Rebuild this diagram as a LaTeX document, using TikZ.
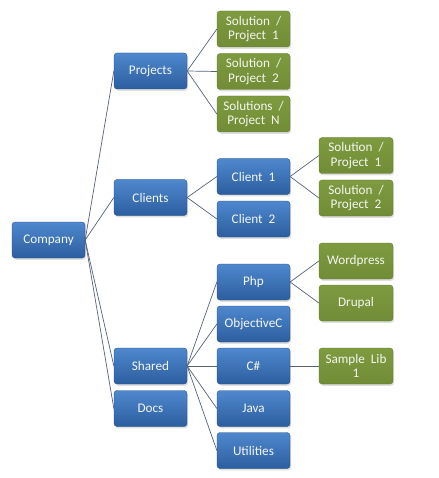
\documentclass[tikz,border=0pt]{standalone}
\usepackage{fontspec}
\setmainfont{Carlito}
\usetikzlibrary{shadows}
\definecolor{bluetop}{HTML}{4F88CE}
\definecolor{bluebot}{HTML}{2C5E9F}
\definecolor{greentop}{HTML}{7E9B40}
\definecolor{greenbot}{HTML}{718C36}
\definecolor{linecol}{HTML}{56627A}
\definecolor{txt}{HTML}{F4F6F0}
\tikzset{
  box/.style={rounded corners=3pt, minimum height=36pt, align=center,
    text=txt, font=\fontsize{13.2}{14.5}\selectfont, inner sep=1pt,
    drop shadow={shadow xshift=1.2pt, shadow yshift=-1.8pt, opacity=0.25}},
  bluebox/.style={box, top color=bluetop, bottom color=bluebot, draw=bluebot!80!black, line width=0.3pt},
  greenbox/.style={box, top color=greentop, bottom color=greenbot, draw=greenbot!85!black, line width=0.3pt},
  link/.style={draw=linecol, line width=0.7pt},
}
\begin{document}
\begin{tikzpicture}[x=1pt,y=-1pt]
\useasboundingbox (0,0) rectangle (438,478);
% level 0
\node[bluebox, minimum width=73pt] (company) at (48.5,240) {Company};
% level 1
\node[bluebox, minimum width=73pt] (projects) at (150.5,71) {Projects};
\node[bluebox, minimum width=73pt] (clients) at (150.5,197.5) {Clients};
\node[bluebox, minimum width=73pt] (shared) at (150.5,366) {Shared};
\node[bluebox, minimum width=73pt] (docs) at (150.5,408.5) {Docs};
% level 2
\node[greenbox, minimum width=73pt] (ps1) at (253.5,29) {Solution~~/\\Project~~1};
\node[greenbox, minimum width=73pt] (ps2) at (253.5,71.5) {Solution~~/\\Project~~2};
\node[greenbox, minimum width=73pt] (psn) at (253.5,114) {Solutions~~/\\Project~~N};
\node[bluebox, minimum width=73pt] (client1) at (253.5,176.5) {Client~~1};
\node[bluebox, minimum width=73pt] (client2) at (253.5,219) {Client~~2};
\node[bluebox, minimum width=73pt] (php) at (253.5,282) {Php};
\node[bluebox, minimum width=73pt] (objc) at (253.5,324) {ObjectiveC};
\node[bluebox, minimum width=73pt] (csharp) at (253.5,366) {C\#};
\node[bluebox, minimum width=73pt] (java) at (253.5,408.5) {Java};
\node[bluebox, minimum width=73pt] (util) at (253.5,450.5) {Utilities};
% level 3
\node[greenbox, minimum width=74pt] (cs1) at (356,155.5) {Solution~~/\\Project~~1};
\node[greenbox, minimum width=74pt] (cs2) at (356,198) {Solution~~/\\Project~~2};
\node[greenbox, minimum width=74pt] (wp) at (356,261) {Wordpress};
\node[greenbox, minimum width=74pt] (drupal) at (356,303) {Drupal};
\node[greenbox, minimum width=74pt] (samplelib) at (356,366) {Sample~~Lib\\1};
% connectors
\foreach \c in {projects,clients,shared,docs} \draw[link] (company.east) -- (\c.west);
\foreach \c in {ps1,ps2,psn} \draw[link] (projects.east) -- (\c.west);
\foreach \c in {client1,client2} \draw[link] (clients.east) -- (\c.west);
\foreach \c in {php,objc,csharp,java,util} \draw[link] (shared.east) -- (\c.west);
\foreach \c in {cs1,cs2} \draw[link] (client1.east) -- (\c.west);
\foreach \c in {wp,drupal} \draw[link] (php.east) -- (\c.west);
\draw[link] (csharp.east) -- (samplelib.west);
\end{tikzpicture}
\end{document}
